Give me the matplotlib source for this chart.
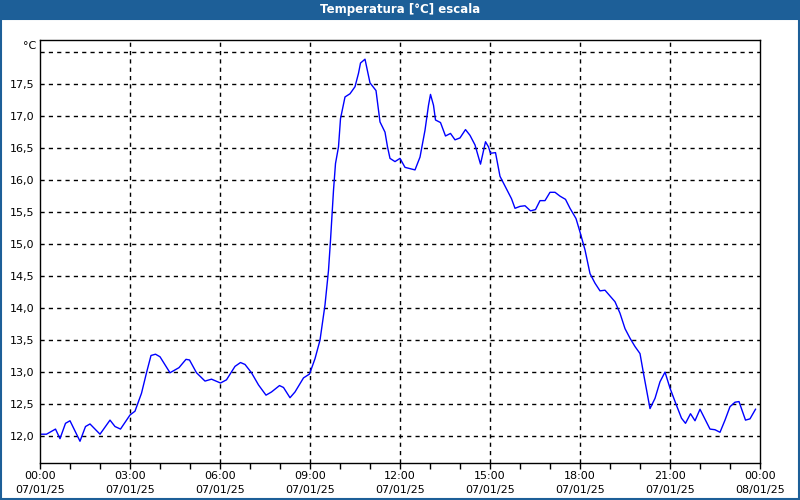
import matplotlib.pyplot as plt
from matplotlib.patches import Rectangle

# minutes since 00:00 on 07/01/25, temperature in degC
minutes = [0, 13, 31, 40, 51, 60, 80, 91, 100, 120, 140, 150, 161, 180, 190,
           203, 213, 222, 231, 240, 260, 278, 292, 299, 313, 330, 343, 361,
           373, 390, 401, 410, 423, 437, 452, 463, 479, 487, 500, 510, 527,
           539, 550, 560, 570, 577, 581, 587, 591, 597, 601, 610, 620, 630,
           637, 641, 650, 660, 672, 680, 690, 695, 700, 710, 720, 730, 740,
           750, 760, 770, 777, 781, 787, 791, 801, 811, 821, 830, 840, 851,
           860, 870, 881, 891, 897, 901, 911, 920, 943, 950, 960, 970, 981,
           991, 1000, 1010, 1020, 1030, 1040, 1051, 1060, 1072, 1080, 1090,
           1100, 1110, 1120, 1130, 1150, 1160, 1170, 1180, 1190, 1200, 1207,
           1220, 1230, 1240, 1250, 1260, 1273, 1283, 1291, 1301, 1310, 1320,
           1340, 1350, 1360, 1370, 1380, 1390, 1398, 1411, 1420, 1431]
temps = [12.03, 12.03, 12.11, 11.96, 12.20, 12.24, 11.92, 12.15, 12.19, 12.03,
         12.25, 12.15, 12.11, 12.33, 12.39, 12.67, 12.99, 13.26, 13.28, 13.24,
         12.99, 13.07, 13.20, 13.19, 12.99, 12.86, 12.89, 12.83, 12.88, 13.09,
         13.15, 13.12, 12.99, 12.80, 12.64, 12.69, 12.79, 12.76, 12.60, 12.69,
         12.91, 12.97, 13.21, 13.50, 14.05, 14.59, 15.06, 15.84, 16.26, 16.52,
         16.96, 17.30, 17.35, 17.46, 17.67, 17.83, 17.89, 17.52, 17.40, 16.91,
         16.75, 16.52, 16.34, 16.29, 16.34, 16.20, 16.18, 16.16, 16.36, 16.78,
         17.17, 17.34, 17.17, 16.94, 16.90, 16.69, 16.73, 16.63, 16.66, 16.79,
         16.70, 16.55, 16.25, 16.60, 16.52, 16.42, 16.43, 16.06, 15.71, 15.56,
         15.59, 15.60, 15.52, 15.54, 15.68, 15.68, 15.81, 15.81, 15.75, 15.70,
         15.56, 15.40, 15.19, 14.91, 14.54, 14.39, 14.27, 14.28, 14.10, 13.92,
         13.68, 13.53, 13.40, 13.29, 12.98, 12.43, 12.59, 12.85, 13.00, 12.75,
         12.48, 12.28, 12.20, 12.35, 12.24, 12.42, 12.11, 12.10, 12.06, 12.25,
         12.46, 12.53, 12.54, 12.25, 12.27, 12.42]

x_ticks = [0, 3, 6, 9, 12, 15, 18, 21, 24]
x_labels = ['00:00\n07/01/25', '03:00\n07/01/25', '06:00\n07/01/25',
            '09:00\n07/01/25', '12:00\n07/01/25', '15:00\n07/01/25',
            '18:00\n07/01/25', '21:00\n07/01/25', '00:00\n08/01/25']
y_ticks = [12.0, 12.5, 13.0, 13.5, 14.0, 14.5, 15.0, 15.5, 16.0, 16.5, 17.0, 17.5]
y_grid = y_ticks + [18.0]

TITLE_BLUE = '#1d5f98'

fig = plt.figure(figsize=(8, 5), dpi=100)
fig.patch.set_facecolor('white')

# window title bar and border
fig.add_artist(Rectangle((0, 0.96), 1, 0.04, transform=fig.transFigure,
                         facecolor=TITLE_BLUE, edgecolor='none'))
fig.add_artist(Rectangle((0.001, 0.002), 0.998, 0.96, transform=fig.transFigure,
                         facecolor='none', edgecolor=TITLE_BLUE, linewidth=1.5))
fig.text(0.5, 0.98, 'Temperatura [°C] escala', color='white', fontsize=8.5,
         fontweight='bold', ha='center', va='center')

ax = fig.add_axes([0.05, 0.074, 0.9, 0.846])
hours = [m / 60 for m in minutes]
ax.plot(hours, temps, color='#0000ff', linewidth=1)

ax.set_xlim(0, 24)
ax.set_ylim(11.58, 18.19)

ax.set_xticks(x_ticks)
ax.set_xticklabels(x_labels, fontsize=8, linespacing=1.45)
ax.set_xticks(range(25), minor=True)
ax.tick_params(axis='x', which='both', direction='out', length=4, width=1, pad=2)

ax.set_yticks(y_ticks)
ax.set_yticklabels([f'{v:.1f}'.replace('.', ',') for v in y_ticks], fontsize=8)
ax.tick_params(axis='y', length=0, pad=4)

for v in y_grid:
    ax.axhline(v, color='black', linewidth=1, linestyle=(0, (3, 3)), zorder=0)
for h in x_ticks[1:-1]:
    ax.axvline(h, color='black', linewidth=1, linestyle=(0, (3, 3)), zorder=0)

ax.text(-0.005, 18.09, '°C', transform=ax.get_yaxis_transform(), fontsize=8,
        ha='right', va='center')

for s in ax.spines.values():
    s.set_linewidth(1)
    s.set_color('black')

fig.savefig('out.png', dpi=100)
